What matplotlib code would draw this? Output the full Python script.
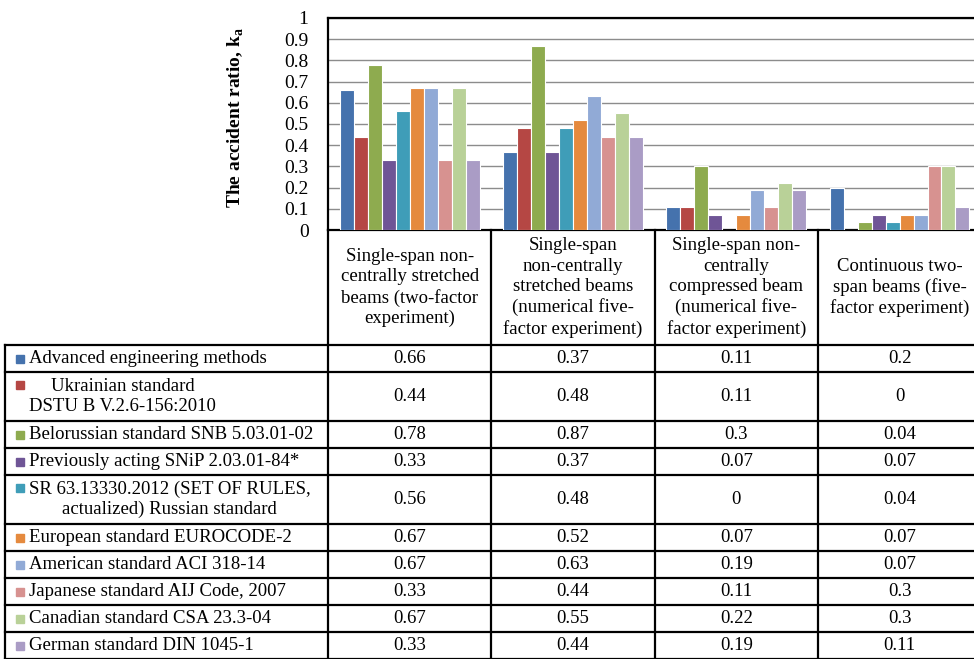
import numpy as np
import matplotlib.pyplot as plt

plt.rcParams['font.family'] = 'Liberation Serif'

# Категории (столбцы таблицы)
categories = [
    "Single-span non-\ncentrally stretched\nbeams (two-factor\nexperiment)",
    "Single-span\nnon-centrally\nstretched beams\n(numerical five-\nfactor experiment)",
    "Single-span non-\ncentrally\ncompressed beam\n(numerical five-\nfactor experiment)",
    "Continuous two-\nspan beams (five-\nfactor experiment)",
]

# Методы расчёта (строки таблицы)
methods = [
    "Advanced engineering methods",
    "Ukrainian standard\nDSTU B V.2.6-156:2010",
    "Belorussian standard SNB 5.03.01-02",
    "Previously acting SNiP 2.03.01-84*",
    "SR 63.13330.2012 (SET OF RULES,\nactualized) Russian standard",
    "European standard EUROCODE-2",
    "American standard ACI 318-14",
    "Japanese standard AIJ Code, 2007",
    "Canadian standard CSA 23.3-04",
    "German standard DIN 1045-1",
]

advanced = [0.66, 0.37, 0.11, 0.2]
ukrainian = [0.44, 0.48, 0.11, 0]
belorussian = [0.78, 0.87, 0.3, 0.04]
snip = [0.33, 0.37, 0.07, 0.07]
sr_russian = [0.56, 0.48, 0, 0.04]
eurocode = [0.67, 0.52, 0.07, 0.07]
aci = [0.67, 0.63, 0.19, 0.07]
aij = [0.33, 0.44, 0.11, 0.3]
csa = [0.67, 0.55, 0.22, 0.3]
din = [0.33, 0.44, 0.19, 0.11]

series = [advanced, ukrainian, belorussian, snip, sr_russian,
          eurocode, aci, aij, csa, din]

colors = ['#4572ad', '#b54744', '#8eab4f', '#6f5596', '#3f9db8',
          '#e58a3e', '#91aad6', '#d79290', '#b9d198', '#aa9cc5']

W, H = 974, 659
fig = plt.figure(figsize=(W / 100, H / 100), dpi=100)


def fx(px):
    return px / W


def fy(py):
    return 1 - py / H


# границы таблицы в пикселях
col_left = 328
col_w = 163.3
header_top, header_bot = 230, 345
row_h = [27, 49, 27, 27, 49, 27, 27, 27, 27, 27]
row_edges = list(header_bot + np.concatenate([[0], np.cumsum(row_h)]))
table_left = 5

# область диаграммы
ax = fig.add_axes([fx(col_left), fy(header_top), fx(4 * col_w),
                   fy(18) - fy(header_top)])
n = len(series)
w = 0.0856
x = np.arange(len(categories))
for j, vals in enumerate(series):
    ax.bar(x + (j - (n - 1) / 2) * w, vals, width=w, color=colors[j],
           edgecolor='white', linewidth=0.8, zorder=3)

ax.set_xlim(-0.5, len(categories) - 0.5)
ax.set_ylim(0, 1)
ax.set_yticks(np.arange(0, 1.01, 0.1))
ax.set_yticklabels(['%g' % round(v, 1) for v in np.arange(0, 1.01, 0.1)])
ax.tick_params(axis='y', length=0, pad=14, labelsize=14)
ax.set_xticks([])
ax.yaxis.grid(True, color='#8c8c8c', linewidth=1, zorder=0)
for s in ['left', 'top', 'bottom']:
    ax.spines[s].set_linewidth(1.6)
    ax.spines[s].set_color('black')
ax.spines['right'].set_visible(False)

fig.text(fx(236), fy(117), 'The accident ratio, k$_\\mathregular{a}$',
         rotation=90, ha='center', va='center', fontsize=14,
         fontweight='bold')

# сетка таблицы
lw = 1.6
for i in range(5):
    xl = col_left + i * col_w
    fig.add_artist(plt.Line2D([fx(xl), fx(xl)], [fy(header_top), fy(H + 5)],
                              color='black', lw=lw))
for yy in row_edges:
    fig.add_artist(plt.Line2D([fx(table_left), fx(col_left + 4 * col_w)],
                              [fy(yy), fy(yy)], color='black', lw=lw))
fig.add_artist(plt.Line2D([fx(table_left), fx(table_left)],
                          [fy(header_bot), fy(H + 5)], color='black', lw=lw))

# заголовки столбцов
for i, cat in enumerate(categories):
    cx = col_left + (i + 0.5) * col_w
    fig.text(fx(cx), fy((header_top + header_bot) / 2), cat, ha='center',
             va='center', fontsize=13.5, linespacing=1.25)

# строки: маркер, подпись, значения
for j, name in enumerate(methods):
    top, bot = row_edges[j], row_edges[j + 1]
    cy = (top + bot) / 2
    nlines = name.count('\n') + 1
    first_y = cy - (nlines - 1) * 11.5
    fig.add_artist(plt.Rectangle((fx(16), fy(first_y + 4)), fx(8), 8 / H,
                                 color=colors[j]))
    fig.text(fx(29), fy(cy), name, ha='left', va='center', fontsize=13.5,
             multialignment='center', linespacing=1.2)
    for i in range(len(categories)):
        cx = col_left + (i + 0.5) * col_w
        fig.text(fx(cx), fy(cy), '%g' % series[j][i], ha='center',
                 va='center', fontsize=13.5)

fig.savefig('out.png', dpi=100)
